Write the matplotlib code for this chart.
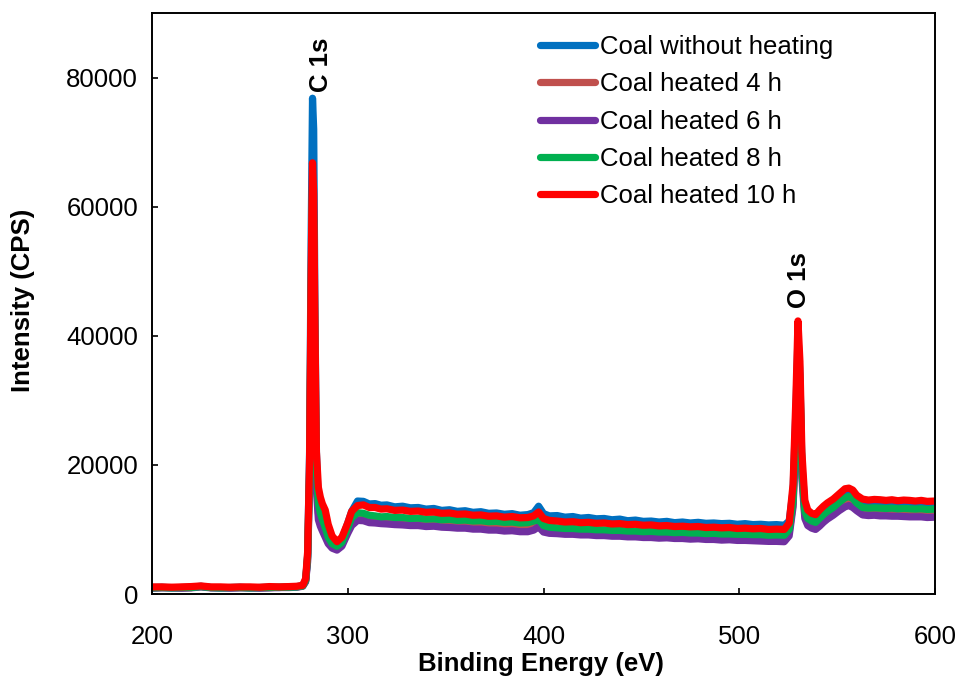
import numpy as np
import matplotlib
matplotlib.use('Agg')
from matplotlib import pyplot as plt

plt.rcParams['font.family'] = ['Liberation Sans', 'DejaVu Sans']

# binding energy grid (eV), split by region
energy = (
    [200, 205, 210, 215, 220, 225, 230, 235, 240, 245, 250, 255, 260, 265, 270]
    + [274, 277, 278.5, 279.5, 280.5, 281.3, 282, 282.6, 283.3, 284, 285, 286, 287, 288.5, 290, 292, 294.5, 297, 300, 302]
    + [305, 308, 311, 314, 317, 320, 324, 328, 332, 336, 340, 344, 348, 352, 356, 360, 364, 368, 372, 376, 380, 384, 388, 392, 395]
    + [397.5, 400, 403, 407, 411, 415, 419, 423, 427, 431, 435, 439, 443, 447, 451, 455, 459, 463, 467, 471, 475, 479, 483, 487,
       491, 495, 499, 503, 507, 511, 515, 519, 523]
    + [525.5, 527.5, 529, 530, 531, 532, 533.5, 535, 537, 539, 541, 543, 545, 548, 551, 554, 556, 558, 560]
    + [563, 566, 569, 572, 575, 578, 581, 584, 587, 590, 593, 596, 600]
)

raw = (
    [1000, 1050, 950, 1000, 1050, 1200, 1000, 950, 1000, 1050, 950, 1000, 1050, 1000, 1100]
    + [1150, 1300, 2200, 6000, 22000, 55000, 76800, 72000, 42000, 22000, 13500, 11000, 10200, 9500, 8800, 8000, 7700, 8400, 11000, 12800]
    + [14400, 14350, 13950, 14000, 13750, 13800, 13500, 13600, 13350, 13400, 13150, 13250, 12950, 13050, 12800, 12900, 12650, 12750,
       12500, 12550, 12350, 12450, 12200, 12300, 12600]
    + [13600, 12450, 12100, 12150, 11900, 12000, 11750, 11850, 11650, 11700, 11500, 11600, 11350, 11450, 11250, 11300, 11150, 11250,
       11050, 11150, 11000, 11100, 10950, 11000, 10900, 10950, 10800, 10900, 10750, 10800, 10700, 10750, 10650]
    + [11300, 16000, 29000, 40000, 34000, 20000, 13800, 12600, 12200, 12000, 12700, 13300, 13800, 14400, 15200, 16000, 16100, 15800, 15000]
    + [14400, 14250, 14350, 14300, 14200, 14300, 14150, 14250, 14200, 14100, 14200, 14050, 14100]
)

heated_4h = (
    [950, 1000, 1000, 950, 1000, 1150, 1000, 1000, 950, 1000, 1000, 950, 1000, 1050, 1050]
    + [1100, 1250, 2000, 5500, 18000, 45000, 61000, 56000, 33000, 18000, 12500, 11000, 10300, 9200, 8300, 7600, 7100, 7800, 9800, 11200]
    + [12000, 11900, 11600, 11550, 11400, 11400, 11300, 11250, 11150, 11150, 11000, 11050, 10900, 10900, 10800, 10800, 10650, 10700,
       10550, 10550, 10400, 10450, 10300, 10350, 10600]
    + [10950, 10100, 9850, 9800, 9700, 9700, 9600, 9600, 9500, 9500, 9400, 9400, 9300, 9300, 9200, 9200, 9100, 9150,
       9050, 9050, 8950, 9000, 8900, 8900, 8800, 8850, 8750, 8750, 8700, 8700, 8600, 8650, 8600]
    + [9500, 14000, 26000, 37000, 32000, 18800, 12200, 11100, 10700, 10500, 11100, 11700, 12200, 12800, 13500, 14200, 14400, 14100, 13500]
    + [12800, 12700, 12750, 12700, 12650, 12650, 12600, 12600, 12550, 12550, 12550, 12450, 12500]
)

heated_6h = (
    [900, 950, 950, 900, 950, 1100, 950, 950, 900, 950, 950, 900, 950, 1000, 1000]
    + [1050, 1200, 1900, 5000, 17000, 43000, 59000, 54000, 31000, 16000, 11500, 10500, 9800, 8800, 7800, 7100, 6800, 7400, 9400, 10600]
    + [11400, 11350, 11050, 11000, 10900, 10850, 10750, 10700, 10600, 10600, 10450, 10500, 10350, 10300, 10200, 10200, 10050, 10050,
       9900, 9900, 9750, 9800, 9650, 9650, 9900]
    + [10400, 9600, 9400, 9350, 9250, 9250, 9150, 9150, 9050, 9050, 8950, 8950, 8850, 8850, 8750, 8750, 8650, 8700,
       8600, 8600, 8500, 8550, 8450, 8450, 8350, 8400, 8300, 8300, 8250, 8200, 8150, 8150, 8100]
    + [9000, 13500, 25000, 36000, 31000, 18000, 11700, 10600, 10200, 10000, 10500, 11100, 11600, 12200, 12900, 13500, 13700, 13400, 12900]
    + [12250, 12150, 12200, 12100, 12100, 12050, 12050, 12000, 11950, 11950, 11950, 11850, 11900]
)

heated_8h = (
    [950, 1000, 950, 1000, 1000, 1150, 1000, 950, 1000, 1000, 950, 1000, 1000, 1050, 1050]
    + [1100, 1250, 2100, 5800, 19000, 47000, 63000, 58000, 36000, 19500, 14000, 12500, 11600, 10300, 8800, 7800, 7400, 8000, 10200, 11800]
    + [12600, 12500, 12200, 12100, 11950, 12000, 11850, 11850, 11700, 11750, 11600, 11650, 11500, 11550, 11400, 11450, 11300, 11350,
       11200, 11250, 11100, 11150, 11000, 11050, 11300]
    + [11500, 10600, 10350, 10250, 10150, 10150, 10050, 10050, 9950, 9950, 9850, 9850, 9750, 9750, 9650, 9700, 9600, 9600,
       9500, 9550, 9450, 9450, 9350, 9400, 9300, 9300, 9250, 9250, 9200, 9200, 9100, 9150, 9100]
    + [10000, 14500, 27000, 38000, 33000, 19500, 12800, 11700, 11300, 11100, 11700, 12300, 12800, 13400, 14200, 14900, 15100, 14800, 14100]
    + [13400, 13300, 13350, 13300, 13250, 13300, 13200, 13250, 13200, 13150, 13200, 13100, 13150]
)

heated_10h = (
    [1100, 1100, 1050, 1100, 1150, 1250, 1100, 1100, 1050, 1100, 1100, 1050, 1150, 1100, 1150]
    + [1200, 1350, 2400, 6500, 21000, 50000, 66800, 62000, 40000, 22000, 16500, 15000, 14000, 13000, 10800, 9000, 8100, 8800, 11000, 12800]
    + [13700, 13800, 13400, 13400, 13150, 13200, 12950, 13000, 12800, 12850, 12650, 12700, 12500, 12550, 12350, 12400, 12200, 12250,
       12050, 12100, 11900, 12000, 11800, 11850, 12100]
    + [12700, 11700, 11400, 11300, 11150, 11200, 11050, 11100, 10950, 11000, 10850, 10900, 10750, 10800, 10650, 10700, 10550, 10600,
       10450, 10500, 10400, 10450, 10300, 10350, 10250, 10300, 10150, 10200, 10100, 10150, 10000, 10050, 10000]
    + [11000, 17000, 31000, 42300, 36000, 22000, 14500, 13000, 12500, 12300, 13000, 13600, 14100, 14700, 15500, 16300, 16400, 16100, 15300]
    + [14700, 14550, 14650, 14600, 14500, 14600, 14450, 14550, 14500, 14400, 14500, 14350, 14400]
)

labels = ['Coal without heating', 'Coal heated 4 h', 'Coal heated 6 h',
          'Coal heated 8 h', 'Coal heated 10 h']
colors = ['#0070C0', '#C0504D', '#7030A0', '#00B050', '#FF0000']
series = [raw, heated_4h, heated_6h, heated_8h, heated_10h]

for s in series:
    assert len(s) == len(energy)

fig = plt.figure(figsize=(9.58, 6.81), dpi=100)
ax = fig.add_axes([152 / 958, 87 / 681, 783 / 958, 581 / 681])

for y, c, lab in zip(series, colors, labels):
    ax.plot(energy, y, color=c, lw=5.2, label=lab, solid_joinstyle='round',
            solid_capstyle='round')

ax.set_xlim(200, 600)
ax.set_ylim(0, 90000)
ax.set_xticks(np.arange(200, 601, 100))
ax.set_yticks(np.arange(0, 80001, 20000))
ax.tick_params(direction='in', length=4.5, width=1.2, labelsize=18.5)
ax.tick_params(axis='x', pad=22)
ax.tick_params(axis='y', pad=10)
for sp in ax.spines.values():
    sp.set_linewidth(1.4)

ax.set_xlabel('Binding Energy (eV)', fontsize=18.5, fontweight='bold')
ax.set_ylabel('Intensity (CPS)', fontsize=18.5, fontweight='bold')
ax.xaxis.set_label_coords(0.497, -0.1)
ax.yaxis.set_label_coords(-0.15, 0.506)

ax.text(286.2, 82000, 'C 1s', rotation=90, ha='center', va='center',
        fontsize=18.5, fontweight='bold')
ax.text(530.3, 48700, 'O 1s', rotation=90, ha='center', va='center',
        fontsize=18.5, fontweight='bold')

ax.legend(loc='upper left', bbox_to_anchor=(540 / 958, 646 / 681),
          bbox_transform=fig.transFigure, frameon=False, fontsize=18.5,
          handlelength=2.14, handletextpad=0.19, labelspacing=0.52,
          borderpad=0, borderaxespad=0)

plt.savefig('out.png', dpi=100)
